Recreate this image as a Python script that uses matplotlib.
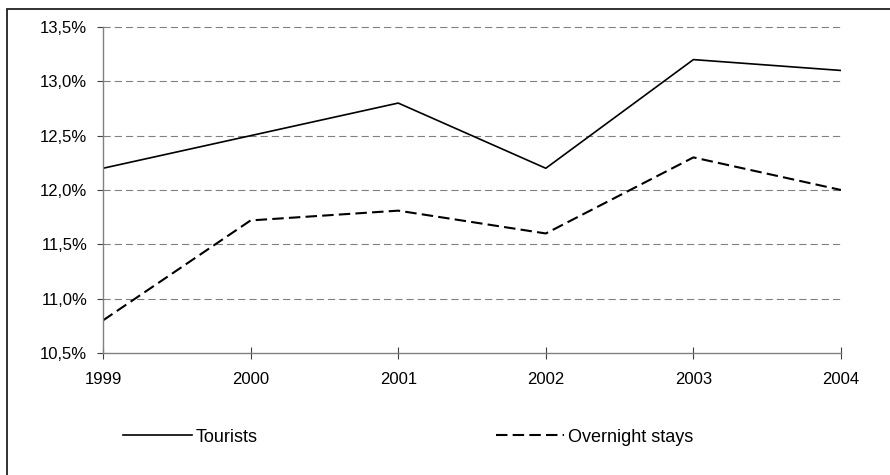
import matplotlib
matplotlib.use("Agg")
import matplotlib.pyplot as plt
import matplotlib.patches as patches
from matplotlib.ticker import FuncFormatter

# Daten
years = [1999, 2000, 2001, 2002, 2003, 2004]
tourists = [12.2, 12.5, 12.8, 12.2, 13.2, 13.1]
overnight = [10.8, 11.72, 11.81, 11.6, 12.3, 12.0]
y_ticks = [10.5, 11.0, 11.5, 12.0, 12.5, 13.0, 13.5]

plt.rcParams['font.family'] = ['Liberation Sans', 'DejaVu Sans']
plt.rcParams['font.size'] = 12

fig = plt.figure(figsize=(8.9, 4.75), dpi=100)
ax = fig.add_axes([103/890, 1-353/475, (841-103)/890, (353-27)/475])

# Rahmen um die Grafik
frame = patches.Rectangle((7/890, -0.2), 1.2, 1.2 - 9/475, transform=fig.transFigure,
                          fill=False, ec='#222222', lw=1.3, clip_on=False)
fig.patches.append(frame)

ax.plot(years, tourists, color='k', lw=1.2, label='Tourists')
ax.plot(years, overnight, color='k', lw=1.5, dashes=(5.5, 2.5), label='Overnight stays')

ax.set_xlim(1999, 2004)
ax.set_ylim(10.5, 13.5)
ax.set_xticks(years)
ax.set_yticks(y_ticks)
ax.yaxis.set_major_formatter(FuncFormatter(lambda v, p: ('%.1f%%' % v).replace('.', ',')))

# Gitterlinien
for v in y_ticks[1:]:
    ax.axhline(v, color='#808080', lw=0.8, dashes=(6.5, 3.6), zorder=0, clip_on=False)

for s in ['top', 'right']:
    ax.spines[s].set_visible(False)
for s in ['left', 'bottom']:
    ax.spines[s].set_color('#808080')
    ax.spines[s].set_linewidth(1.0)

ax.tick_params(axis='x', direction='inout', length=8, color='#404040', pad=10, labelsize=12)
ax.tick_params(axis='y', direction='out', length=4.3, color='#404040', pad=7, labelsize=12)

fig.legend(loc='center left', bbox_to_anchor=(107/890, 1-437/475), ncol=2, frameon=False,
           handlelength=3.8, handletextpad=0.2, columnspacing=13.2, fontsize=13)

plt.savefig('out.png', dpi=100)
